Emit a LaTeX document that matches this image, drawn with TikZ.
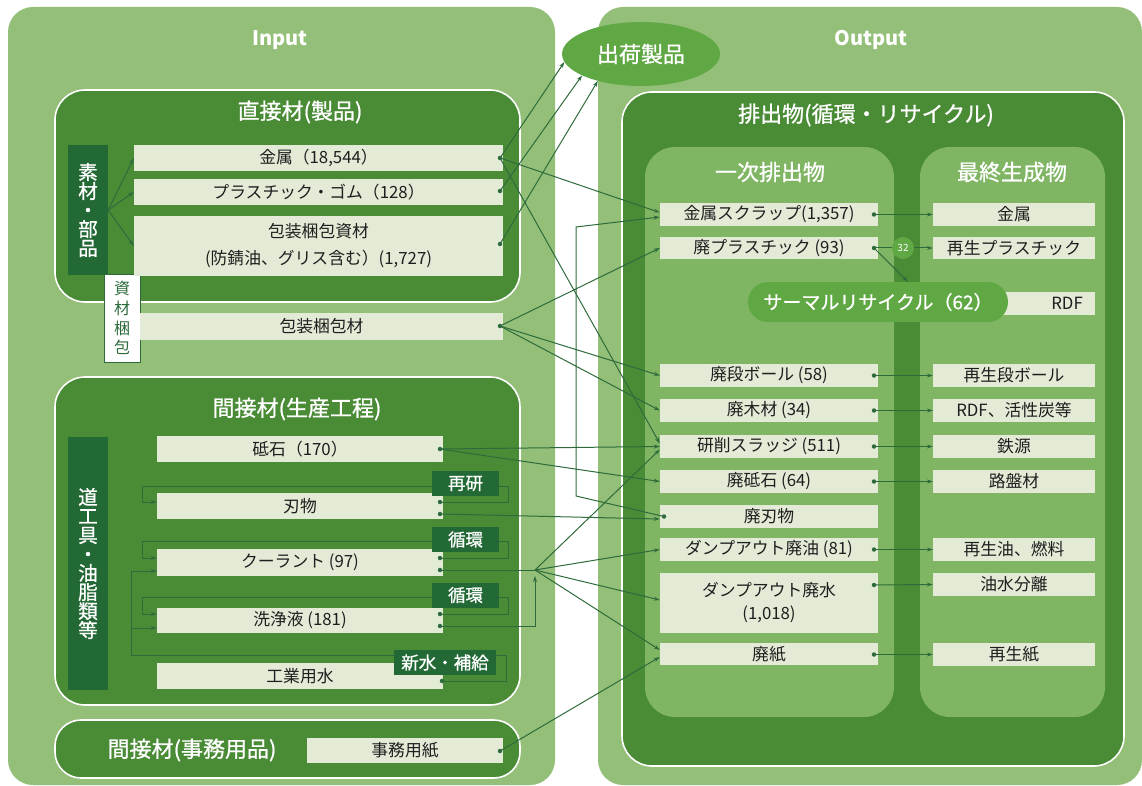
\documentclass[tikz,border=0pt]{standalone}
\usepackage{fontspec}
\setmainfont{Noto Sans CJK JP}
\newfontfamily\semib{Noto Sans CJK JP}[FakeBold=0.9]
\usetikzlibrary{arrows.meta,shapes.geometric,calc}
\definecolor{cOuter}{HTML}{93BF78}
\definecolor{cMid}{HTML}{4A8B36}
\definecolor{cDark}{HTML}{236935}
\definecolor{cInner}{HTML}{80B663}
\definecolor{cBright}{HTML}{5FA844}
\definecolor{cPale}{HTML}{E3EBD7}
\definecolor{cLine}{HTML}{2E6B3C}
\definecolor{cText}{HTML}{1E1E1E}
\begin{document}
\begin{tikzpicture}[x=1pt,y=-1pt,
  pale/.style={fill=cPale, inner sep=0pt, text=cText, align=center, font=\fontsize{16.8}{27}\selectfont},
  tagbox/.style={fill=cDark, text=white, inner sep=0pt, minimum height=25pt, font=\semib\fontsize{17.5}{20}\selectfont},
  conn/.style={draw=cLine, line width=1pt},
  arr/.style={conn, -{Stealth[length=6pt,width=4pt]}},
  dotc/.style={circle, fill=cLine, inner sep=0pt, minimum size=4.5pt},
  title/.style={text=white, inner sep=0pt, font=\semib\fontsize{22}{24}\selectfont},
  bigbox/.style={fill=cMid, draw=white, line width=1.6pt, rounded corners=30pt},
  vlabel/.style={fill=cDark, text=white, inner sep=0pt, align=center, minimum width=40pt, font=\semib\fontsize{19.5}{19}\selectfont},
  iotitle/.style={text=white, font=\bfseries\fontsize{20}{24}\selectfont}
]
\useasboundingbox (0,0) rectangle (1142,786);

% outer panels
\fill[cOuter, rounded corners=25pt] (8,7) rectangle (555,785);
\fill[cOuter, rounded corners=25pt] (598,7) rectangle (1142,785);
\node[iotitle] (inp) at (280,40) {Input};
\node[iotitle] (outp) at (871,40) {Output};

% group boxes
\draw[bigbox] (55,90) rectangle (520,302);
\draw[bigbox] (55,377) rectangle (520,705);
\draw[bigbox, rounded corners=26pt] (55,720) rectangle (520,778);
\draw[bigbox] (622,92) rectangle (1124,766);
\fill[cInner, rounded corners=30pt] (645,147) rectangle (894,717);
\fill[cInner, rounded corners=30pt] (920,147) rectangle (1105,717);

% titles
\node[title] (t1) at (300,112) {直接材(製品)};
\node[title] (t2) at (297,409) {間接材(生産工程)};
\node[title] (t3) at (192,750) {間接材(事務用品)};
\node[title] (t4) at (866,115) {排出物(循環・リサイクル)};
\node[title] (t5) at (770,172) {一次排出物};
\node[title] (t6) at (1012,172) {最終生成物};

% vertical labels
\node[vlabel, minimum height=130pt] (sozai) at (88,210) {素\\材\\・\\部\\品};
\node[vlabel, minimum height=253pt] (dougu) at (88,563.5) {道\\工\\具\\・\\油\\脂\\類\\等};
\node[fill=white, draw=cLine, line width=0.6pt, minimum width=36pt, minimum height=88pt, inner sep=0pt, text=cLine, align=center, font=\fontsize{16}{19.7}\selectfont] (shizai) at (122,318) {資\\材\\梱\\包};

% left pale boxes
\node[pale, minimum width=369pt, minimum height=26pt] (metal) at (318.5,158) {金属（18,544）};
\node[pale, minimum width=369pt, minimum height=26pt] (plastic) at (318.5,192) {プラスチック・ゴム（128）};
\node[pale, minimum width=369pt, minimum height=60pt] (pack) at (318.5,246) {包装梱包資材\\(防錆油、グリス含む）(1,727)};
\node[pale, minimum width=363pt, minimum height=27pt] (packmat) at (321.5,326.5) {包装梱包材};
\node[pale, minimum width=286pt, minimum height=26pt] (toishi) at (300,449) {砥石（170）};
\node[pale, minimum width=286pt, minimum height=26pt] (hamono) at (300,506) {刃物};
\node[pale, minimum width=286pt, minimum height=27pt] (coolant) at (300,562.5) {クーラント (97)};
\node[pale, minimum width=286pt, minimum height=25pt] (senjo) at (300,620.5) {洗浄液 (181)};
\node[pale, minimum width=286pt, minimum height=26pt] (kogyo) at (300,676) {工業用水};
\node[pale, minimum width=196pt, minimum height=25pt] (jimu) at (405,750.5) {事務用紙};

% right first column
\node[pale, minimum width=218pt, minimum height=23pt] (scrap) at (769,214.5) {金属スクラップ(1,357)};
\node[pale, minimum width=218pt, minimum height=22pt] (wpl) at (769,248) {廃プラスチック (93)};
\node[pale, minimum width=218pt, minimum height=23pt] (card) at (769,375.5) {廃段ボール (58)};
\node[pale, minimum width=218pt, minimum height=23pt] (wood) at (769,410.5) {廃木材 (34)};
\node[pale, minimum width=218pt, minimum height=23pt] (sludge) at (769,446.5) {研削スラッジ (511)};
\node[pale, minimum width=218pt, minimum height=23pt] (wtoishi) at (769,481.5) {廃砥石 (64)};
\node[pale, minimum width=218pt, minimum height=23pt] (wham) at (769,516.5) {廃刃物};
\node[pale, minimum width=218pt, minimum height=23pt] (oil) at (769,549.5) {ダンプアウト廃油 (81)};
\node[pale, minimum width=218pt, minimum height=60pt, font=\fontsize{16.8}{23}\selectfont] (water) at (769,603) {ダンプアウト廃水\\(1,018)};
\node[pale, minimum width=218pt, minimum height=22pt] (paper) at (769,654) {廃紙};

% right second column
\node[pale, minimum width=162pt, minimum height=23pt] (rmetal) at (1014,214.5) {金属};
\node[pale, minimum width=162pt, minimum height=22pt] (rpl) at (1014,248) {再生プラスチック};
\node[pale, anchor=east, minimum width=105pt, minimum height=23pt, text width=81pt, align=right] (rdf) at (1095,303.5) {RDF};
\node[pale, minimum width=162pt, minimum height=23pt] (rcard) at (1014,375.5) {再生段ボール};
\node[pale, minimum width=162pt, minimum height=23pt] (ract) at (1014,410.5) {RDF、活性炭等};
\node[pale, minimum width=162pt, minimum height=23pt] (iron) at (1014,446.5) {鉄源};
\node[pale, minimum width=162pt, minimum height=23pt] (road) at (1014,481.5) {路盤材};
\node[pale, minimum width=162pt, minimum height=23pt] (roil) at (1014,549.5) {再生油、燃料};
\node[pale, minimum width=162pt, minimum height=23pt] (rsep) at (1014,584.5) {油水分離};
\node[pale, minimum width=162pt, minimum height=23pt] (rpaper) at (1014,654.5) {再生紙};

% thermal recycle pill and shipped products ellipse
\node[fill=cBright, rounded corners=20pt, minimum width=260pt, minimum height=40pt, inner sep=0pt, text=white, font=\semib\fontsize{19}{22}\selectfont] (thermal) at (878,302) {サーマルリサイクル（62）};
\node[ellipse, fill=cBright, minimum width=158pt, minimum height=64pt, inner sep=0pt, text=white, font=\semib\fontsize{22}{24}\selectfont] (ship) at (641,54) {出荷製品};

% dots
\node[dotc] (dmetal) at (500,158) {};
\node[dotc] (dplastic) at (500,191) {};
\node[dotc] (dpack) at (500,244) {};
\node[dotc] (dpackmat) at (500,326) {};
\node[dotc] (dtoishi) at (440,449) {};
\node[dotc] (dham1) at (440,502) {};
\node[dotc] (dham2) at (440,514) {};
\node[dotc] (dcool1) at (440,558) {};
\node[dotc] (dcool2) at (440,570) {};
\node[dotc] (dsen1) at (440,614) {};
\node[dotc] (dsen2) at (440,626) {};
\node[dotc] (dkogyo) at (442,681) {};
\node[dotc] (djimu) at (500,751) {};
\node[dotc] (dwham) at (664,516.5) {};
\node[dotc] (dscrap) at (874,214.5) {};
\node[dotc] (dwpl) at (874,248) {};
\node[dotc] (dcard) at (874,375.5) {};
\node[dotc] (dwood) at (874,410.5) {};
\node[dotc] (dsludge) at (874,446.5) {};
\node[dotc] (dwtoishi) at (874,481.5) {};
\node[dotc] (doil) at (874,549.5) {};
\node[dotc] (dwater) at (874,585) {};
\node[dotc] (dpaper) at (874,654.5) {};

\coordinate (junc) at (535,570);
\coordinate (bendA) at (576,496);
\coordinate (bendB) at (576,227);
\coordinate (kogA) at (506,681);
\coordinate (kogB) at (506,655);
\coordinate (kogC) at (131,655);
\coordinate (kogD) at (131,571);
\coordinate (kogE) at (131,628);

% connectors: left
\draw[arr] (sozai.east) -- (metal.west);
\draw[arr] (sozai.east) -- (plastic.west);
\draw[arr] (sozai.east) -- (pack.west);
\draw[arr] (dmetal.center) -- (ship.186);
\draw[arr] (dplastic.center) -- (ship.200);
\draw[arr] (dpack.center) -- (ship.212);
\draw[arr] (dmetal.center) -- ($(scrap.west)+(0,-2)$);
\draw[arr] (dmetal.center) -- ($(sludge.west)+(0,-3)$);
\draw[arr] (dpackmat.center) -- (wpl.west);
\draw[arr] (dpackmat.center) -- (card.west);
\draw[arr] (dpackmat.center) -- (wood.west);
\draw[arr] (dtoishi.center) -- (sludge.west);
\draw[arr] (dtoishi.center) -- (wtoishi.west);
\draw[arr] (dham2.center) -- ($(wham.west)+(0,2.5)$);
\draw[arr] (dwham.center) -- (bendA) -- (bendB) -- ($(scrap.west)+(0,2.5)$);

% loops
\draw[arr] (dham1.center) -- (508,502) -- (508,486) -- (142,486) -- (142,502) -- ($(hamono.west)+(0,-4)$);
\draw[arr] (dcool1.center) -- (508,558) -- (508,541) -- (142,541) -- (142,558) -- ($(coolant.west)+(0,-4.5)$);
\draw[arr] (dsen1.center) -- (508,614) -- (508,597) -- (142,597) -- (142,614) -- ($(senjo.west)+(0,-6.5)$);
\draw[conn] (dcool2.center) -- (junc);
\draw[arr] (dsen2.center) -- (535,626) -- ($(junc)+(0,6)$);
\draw[conn] (dkogyo.center) -- (kogA) -- (kogB) -- (kogC) -- (kogD);
\draw[arr] (kogD) -- ($(coolant.west)+(0,8.5)$);
\draw[arr] (kogE) -- ($(senjo.west)+(0,7.5)$);

% fan from junction
\draw[arr] (junc) -- ($(sludge.west)+(0,3)$);
\draw[arr] (junc) -- (oil.west);
\draw[arr] (junc) -- ($(water.west)+(0,-3)$);
\draw[arr] (junc) -- ($(paper.west)+(0,-4)$);
\draw[arr] (djimu.center) -- ($(paper.west)+(0,3)$);

% tags
\node[tagbox, minimum width=67pt] (tag1) at (465.5,483.5) {再研};
\node[tagbox, minimum width=67pt] (tag2) at (465.5,539.5) {循環};
\node[tagbox, minimum width=67pt] (tag3) at (465.5,595) {循環};
\node[tagbox, minimum width=102pt] (tag4) at (445,662.5) {新水・補給};

% connectors: right
\node[circle, fill=cBright, minimum size=22pt, inner sep=0pt, text=white, font=\fontsize{10}{12}\selectfont] (c32) at (903,248) {32};
\draw[arr] (dscrap.center) -- (rmetal.west);
\draw[conn] (dwpl.center) -- (c32);
\draw[arr] (c32) -- (rpl.west);
\draw[arr] (dwpl.center) -- ($(thermal.north)+(30,0)$);
\draw[arr] (dcard.center) -- (rcard.west);
\draw[arr] (dwood.center) -- (ract.west);
\draw[arr] (dsludge.center) -- (iron.west);
\draw[arr] (dwtoishi.center) -- (road.west);
\draw[arr] (doil.center) -- (roil.west);
\draw[arr] (dwater.center) -- (rsep.west);
\draw[arr] (dpaper.center) -- (rpaper.west);
\end{tikzpicture}
\end{document}
